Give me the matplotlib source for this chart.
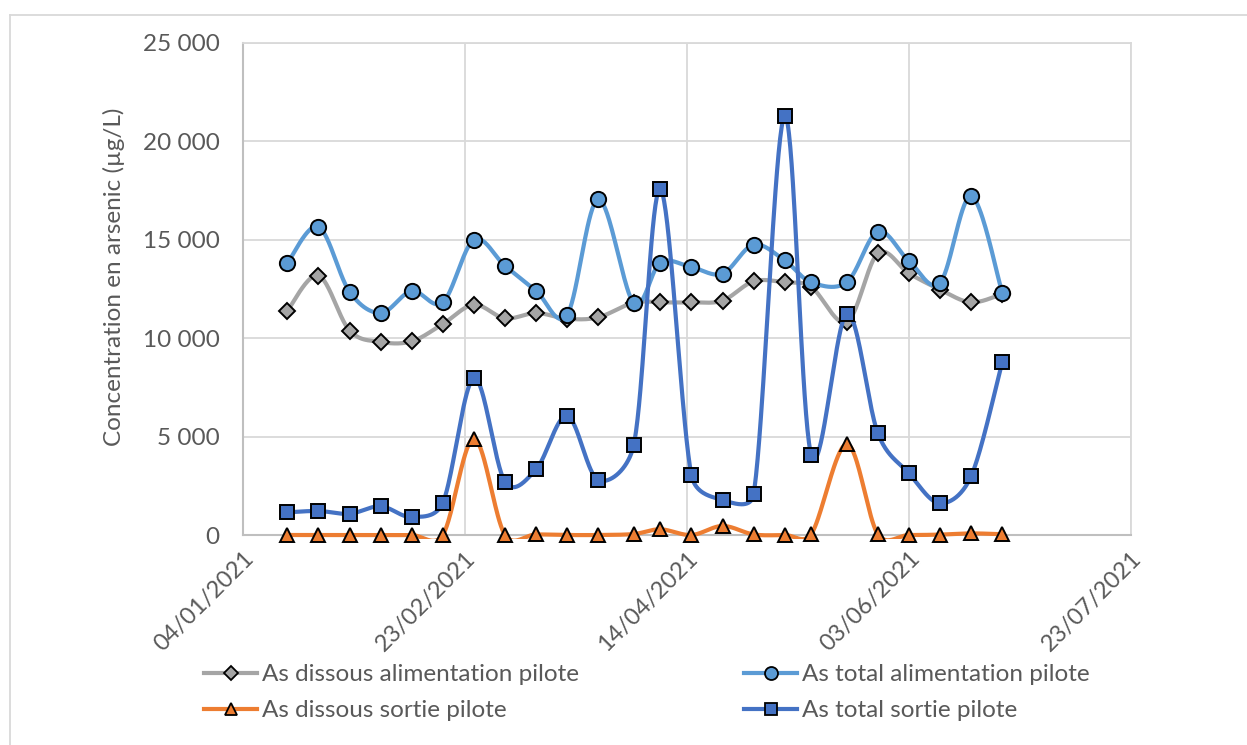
import matplotlib
matplotlib.use("Agg")
import matplotlib.pyplot as plt
import matplotlib.dates as mdates
from matplotlib.patches import Rectangle
from matplotlib.lines import Line2D
from matplotlib.ticker import FuncFormatter
import numpy as np
import datetime as dt

dates = ["14/01/2021", "21/01/2021", "28/01/2021", "04/02/2021", "11/02/2021", "18/02/2021",
         "25/02/2021", "04/03/2021", "11/03/2021", "18/03/2021", "25/03/2021", "02/04/2021",
         "08/04/2021", "15/04/2021", "22/04/2021", "29/04/2021", "06/05/2021", "12/05/2021",
         "20/05/2021", "27/05/2021", "03/06/2021", "10/06/2021", "17/06/2021", "24/06/2021"]

dissous_alim = [11400, 13180, 10390, 9810, 9840, 10720, 11700, 11010, 11280, 10990, 11060, 11810,
                11820, 11820, 11910, 12890, 12840, 12600, 10820, 14310, 13290, 12470, 11820, 12250]
total_alim = [13820, 15660, 12360, 11280, 12400, 11820, 15000, 13680, 12410, 11180, 17050, 11790,
              13840, 13610, 13280, 14750, 13950, 12840, 12850, 15420, 13920, 12820, 17220, 12310]
dissous_sortie = [0, 0, 0, 0, 0, 0, 4900, 0, 30, 0, 0, 50,
                  290, 0, 460, 30, 0, 50, 4620, 30, 0, 20, 80, 40]
total_sortie = [1150, 1220, 1080, 1460, 910, 1640, 7970, 2710, 3330, 6050, 2790, 4570,
                17570, 3040, 1780, 2060, 21290, 4060, 11250, 5160, 3130, 1610, 2990, 8790]

series_names = ["As dissous alimentation pilote", "As total alimentation pilote",
                "As dissous sortie pilote", "As total sortie pilote"]
x_ticks = ["04/01/2021", "23/02/2021", "14/04/2021", "03/06/2021", "23/07/2021"]
y_ticks = [0, 5000, 10000, 15000, 20000, 25000]

FONT = ["Lato", "DejaVu Sans"]
plt.rcParams["font.family"] = FONT
TXT = "#595959"

def to_num(s):
    return mdates.date2num(dt.datetime.strptime(s, "%d/%m/%Y"))

xd = np.array([to_num(s) for s in dates])

# pixel scale of the plot area (used only to shape the smoothed curve like Excel does)
SX = 888.0 / (to_num(x_ticks[-1]) - to_num(x_ticks[0]))
SY = 492.0 / 25000.0

def smooth(x, y, n=40):
    x = np.asarray(x, float) * SX
    y = np.asarray(y, float) * SY
    P = np.column_stack([x, y])
    P = np.vstack([P[0], P, P[-1]])
    t = np.linspace(0, 1, n)[:, None]
    out = []
    for i in range(1, len(P) - 2):
        p0, p1, p2, p3 = P[i-1], P[i], P[i+1], P[i+2]
        d12 = np.linalg.norm(p2 - p1)
        a = (p2 - p0) / 6.0
        b = (p3 - p1) / 6.0
        la, lb = np.linalg.norm(a), np.linalg.norm(b)
        if la > d12 / 2 and la > 0:
            a = a * (d12 / 2) / la
        if lb > d12 / 2 and lb > 0:
            b = b * (d12 / 2) / lb
        c1 = p1 + a
        c2 = p2 - b
        B = (1-t)**3*p1 + 3*(1-t)**2*t*c1 + 3*(1-t)*t**2*c2 + t**3*p2
        out.append(B)
    B = np.vstack(out)
    return B[:, 0] / SX, B[:, 1] / SY

fig = plt.figure(figsize=(12.47, 7.45), dpi=100)
ax = fig.add_axes([243/1247, 1-535/745, (1131-243)/1247, (535-43)/745])

ax.set_xlim(to_num(x_ticks[0]), to_num(x_ticks[-1]))
ax.set_ylim(0, 25000)

clip = Rectangle((0, -0.008), 1, 1.02, transform=ax.transAxes, facecolor="none", edgecolor="none")
ax.add_patch(clip)

styles = [
    (dissous_alim, "#A5A5A5", "D", 8.5),
    (total_alim, "#5B9BD5", "o", 11),
    (dissous_sortie, "#ED7D31", "^", 10.5),
    (total_sortie, "#4472C4", "s", 10),
]
handles = []
for k, (vals, col, mk, ms) in enumerate(styles):
    sx, sy = smooth(xd, vals)
    ln, = ax.plot(sx, sy, color=col, lw=3.0, zorder=3 + k, solid_capstyle="round")
    ln.set_clip_path(clip)
    ax.plot(xd, vals, linestyle="none", marker=mk, ms=ms, mfc=col, mec="black", mew=1.4,
            zorder=3 + k, clip_on=False)
    handles.append(Line2D([0], [0], color=col, lw=3.0, marker=mk, ms=ms * 0.85, mfc=col,
                          mec="black", mew=1.3))

ax.set_xticks([to_num(s) for s in x_ticks])
ax.set_xticklabels(x_ticks, rotation=45, ha="right", va="top", rotation_mode="anchor")
ax.set_yticks(y_ticks)
ax.yaxis.set_major_formatter(FuncFormatter(lambda v, p: f"{int(v):,}".replace(",", " ")))
ax.tick_params(axis="both", length=0, labelcolor=TXT)
ax.tick_params(axis="y", labelsize=17.5, pad=17)
ax.tick_params(axis="x", labelsize=17, pad=9)
ax.grid(True, color="#D9D9D9", lw=1.3, zorder=0)
ax.set_axisbelow(True)
for side in ["top", "right"]:
    ax.spines[side].set_color("#D9D9D9"); ax.spines[side].set_linewidth(1.3)
for side in ["left", "bottom"]:
    ax.spines[side].set_color("#BFBFBF"); ax.spines[side].set_linewidth(1.5)
    ax.spines[side].set_zorder(2.5)

ax.set_ylabel("Concentration en arsenic (µg/L)", fontsize=17.5, color=TXT)
ax.yaxis.set_label_coords(-118/888, 0.525)

leg_kw = dict(loc="upper left", frameon=False, fontsize=17.5, labelcolor=TXT,
              handlelength=2.2, handletextpad=0.2, labelspacing=0.62, borderaxespad=0,
              borderpad=0)
leg1 = fig.legend([handles[0], handles[2]], [series_names[0], series_names[2]],
                  bbox_to_anchor=(204/1247, 1-664/745), **leg_kw)
leg2 = fig.legend([handles[1], handles[3]], [series_names[1], series_names[3]],
                  bbox_to_anchor=(744/1247, 1-664/745), **leg_kw)

fig.add_artist(Line2D([10/1247, 10/1247], [0, 1-15/745], transform=fig.transFigure,
                      color="#D9D9D9", lw=1.3))
fig.add_artist(Line2D([10/1247, 1], [1-15/745, 1-15/745], transform=fig.transFigure,
                      color="#D9D9D9", lw=1.3))

fig.savefig("out.png", dpi=100)
